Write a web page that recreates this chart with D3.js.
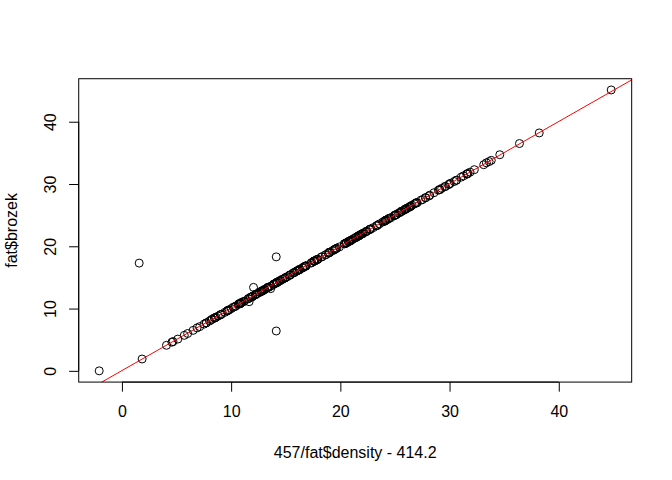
<!DOCTYPE html>
<html>
<head>
<meta charset="utf-8">
<script src="https://cdn.jsdelivr.net/npm/d3@7"></script>
<style>
  html, body { margin: 0; padding: 0; background: #fff; }
  svg { display: block; }
  text { font-family: "Liberation Sans", Arial, Helvetica, sans-serif; }
</style>
</head>
<body>
<svg id="chart" width="672" height="480"></svg>
<script>
// fat$brozek (y values)
const brozek = [
  12.6, 6.9, 24.6, 10.9, 27.8, 20.6, 19.0, 12.8, 5.1, 12.0,
  7.5, 8.5, 20.5, 20.8, 21.7, 20.5, 28.1, 22.4, 16.1, 16.5,
  19.0, 15.3, 15.7, 17.6, 14.2, 4.6, 8.5, 22.4, 4.7, 9.4,
  12.3, 6.5, 13.4, 20.9, 31.1, 38.2, 23.6, 27.5, 33.8, 31.3,
  33.1, 31.7, 30.4, 30.1, 11.9, 5.7, 11.8, 6.4, 13.4, 20.9,
  15.4, 24.2, 13.9, 26.4, 25.8, 22.0, 29.9, 29.1, 26.4, 19.6,
  24.0, 26.8, 25.0, 16.8, 18.3, 16.2, 21.8, 13.9, 21.4, 20.8,
  20.4, 25.3, 17.7, 19.4, 11.6, 18.3, 14.2, 16.8, 23.4, 14.2,
  22.7, 23.9, 21.6, 28.6, 26.4, 27.8, 24.9, 19.0, 18.6, 22.1,
  25.1, 24.5, 21.3, 17.6, 22.0, 17.3, 10.8, 22.7, 15.1, 12.4,
  23.0, 16.9, 17.8, 10.7, 18.3, 25.6, 33.6, 19.3, 20.9, 24.2,
  17.6, 19.5, 21.6, 27.0, 14.9, 16.3, 10.3, 10.7, 17.3, 16.1,
  12.7, 22.8, 23.3, 19.7, 21.0, 26.6, 9.1, 15.4, 10.8, 10.2,
  18.9, 20.4, 10.8, 16.2, 15.8, 24.3, 21.5, 9.6, 26.1, 15.8,
  25.9, 13.2, 11.1, 12.3, 26.0, 14.5, 10.8, 17.6, 7.7, 8.3,
  8.0, 10.8, 13.0, 21.2, 25.4, 27.4, 20.5, 26.3, 12.3, 9.0,
  8.5, 11.9, 10.9, 9.7, 16.6, 20.7, 30.0, 21.7, 8.2, 31.6,
  29.0, 13.4, 9.8, 6.0, 1.9, 11.1, 11.8, 14.9, 16.7, 9.0,
  8.6, 0.0, 11.6, 16.8, 4.1, 17.9, 28.2, 32.3, 12.2, 25.6,
  14.7, 16.3, 25.6, 12.6, 25.0, 13.4, 7.7, 9.7, 26.2, 13.1,
  30.6, 17.9, 20.5, 29.6, 18.7, 31.6, 27.0, 14.2, 10.0, 13.3,
  10.4, 15.0, 30.6, 27.0, 24.1, 45.1, 26.9, 29.6, 19.6, 23.3,
  17.9, 21.9, 8.8, 14.0, 14.1, 14.7, 12.9, 26.0, 31.9, 14.5,
  17.4, 12.8, 12.9, 13.6, 17.6, 19.9, 24.1, 22.3, 34.7, 29.3,
  36.5, 11.2, 22.7, 25.1, 16.0, 7.1, 14.4, 24.4, 11.0, 33.4,
  29.1, 26.0
];

// 457/fat$density - 414.2 (x values)
const siriFromDensity = [
  12.62, 6.88, 24.63, 10.87, 27.82, 20.58, 19.03, 12.77, 5.12, 11.98,
  7.52, 8.47, 20.53, 20.79, 21.68, 20.52, 28.14, 22.37, 16.09, 16.53,
  18.98, 15.32, 15.67, 17.61, 14.23, 4.58, 8.52, 22.41, 4.68, 9.43,
  12.28, 6.52, 13.37, 20.93, 31.06, 38.21, 23.58, 27.53, 33.82, 31.27,
  33.13, 31.68, 30.42, 30.07, 11.93, 5.71, 11.77, 14.13, 13.42, 20.88,
  15.43, 24.17, 13.92, 26.38, 25.83, 21.97, 29.93, 29.08, 26.43, 19.57,
  24.03, 26.78, 24.98, 16.82, 18.27, 16.23, 21.78, 13.88, 21.43, 20.82,
  20.37, 25.32, 17.68, 19.43, 11.58, 14.13, 14.22, 16.77, 23.42, 14.18,
  22.73, 23.88, 21.62, 28.57, 26.43, 27.78, 24.93, 18.97, 18.62, 22.08,
  25.13, 24.47, 21.32, 17.58, 22.03, 1.58, 10.82, 22.68, 15.13, 12.38,
  23.02, 16.88, 17.82, 10.68, 18.32, 25.57, 33.62, 19.28, 20.93, 24.18,
  17.62, 19.48, 21.63, 26.98, 14.92, 16.27, 10.33, 10.68, 17.32, 16.08,
  12.72, 22.78, 23.33, 19.68, 21.03, 26.57, 9.12, 15.38, 10.83, 10.18,
  18.92, 20.38, 10.82, 16.23, 15.77, 24.32, 21.48, 9.63, 26.08, 15.82,
  25.92, 13.62, 11.65, 12.28, 26.03, 14.48, 10.82, 17.57, 7.73, 8.28,
  8.02, 10.78, 13.03, 21.18, 25.43, 27.38, 20.52, 26.32, 12.27, 9.03,
  8.48, 11.92, 10.88, 9.72, 16.58, 20.73, 29.98, 21.72, 8.18, 31.62,
  28.97, 12.05, 9.82, 6.02, 1.85, 11.12, 11.78, 14.93, 16.68, 9.02,
  8.62, -2.08, 11.58, 16.82, 4.08, 17.93, 28.18, 32.27, 12.22, 25.58,
  14.72, 16.28, 25.62, 12.58, 25.03, 13.38, 7.72, 9.68, 26.23, 13.08,
  30.62, 17.88, 20.53, 29.58, 18.72, 31.57, 27.03, 14.18, 10.02, 13.28,
  10.42, 14.98, 30.63, 26.97, 24.12, 44.8, 26.88, 29.62, 19.58, 23.32,
  17.92, 21.88, 8.82, 13.98, 14.12, 14.68, 12.93, 25.97, 31.88, 14.52,
  17.38, 12.82, 12.88, 13.62, 17.58, 19.92, 24.08, 22.32, 34.6, 29.28,
  36.4, 11.22, 22.68, 25.12, 15.98, 7.13, 14.38, 24.42, 10.98, 33.37,
  29.12, 25.97
];

const xTicks = [0, 10, 20, 30, 40];
const yTicks = [0, 10, 20, 30, 40];
const ablineCoef = [0.04, 1.0]; // intercept, slope
const xLabel = "457/fat$density - 414.2";
const yLabel = "fat$brozek";

const W = 672, H = 480;
const lineH = 19.2;
const margin = { top: 4.1 * lineH, right: 2.1 * lineH, bottom: 5.1 * lineH, left: 4.1 * lineH };
const x0 = margin.left, x1 = W - margin.right, y0 = margin.top, y1 = H - margin.bottom;

function rExtent(arr) {
  const [a, b] = d3.extent(arr);
  const pad = 0.04 * (b - a);
  return [a - pad, b + pad];
}

const n = Math.min(brozek.length, siriFromDensity.length);
const data = d3.range(n).map(i => ({ x: siriFromDensity[i], y: brozek[i] }));

const xScale = d3.scaleLinear().domain(rExtent(data.map(d => d.x))).range([x0, x1]);
const yScale = d3.scaleLinear().domain(rExtent(data.map(d => d.y))).range([y1, y0]);

const svg = d3.select("#chart");

svg.append("defs").append("clipPath").attr("id", "plotclip")
  .append("rect").attr("x", x0).attr("y", y0).attr("width", x1 - x0).attr("height", y1 - y0);

// points
svg.append("g")
  .selectAll("circle")
  .data(data)
  .join("circle")
  .attr("cx", d => xScale(d.x))
  .attr("cy", d => yScale(d.y))
  .attr("r", 4)
  .attr("fill", "none")
  .attr("stroke", "#000")
  .attr("stroke-width", 1);

// abline
const xd = xScale.domain();
svg.append("line")
  .attr("clip-path", "url(#plotclip)")
  .attr("x1", xScale(xd[0] - 5)).attr("y1", yScale(ablineCoef[0] + ablineCoef[1] * (xd[0] - 5)))
  .attr("x2", xScale(xd[1] + 5)).attr("y2", yScale(ablineCoef[0] + ablineCoef[1] * (xd[1] + 5)))
  .attr("stroke", "#ff0000")
  .attr("stroke-width", 1);

// box
svg.append("rect")
  .attr("x", x0).attr("y", y0).attr("width", x1 - x0).attr("height", y1 - y0)
  .attr("fill", "none").attr("stroke", "#000").attr("stroke-width", 1);

// bottom axis
const xAxis = d3.axisBottom(xScale).tickValues(xTicks).tickSize(9.6).tickPadding(0).tickFormat(d3.format("d"));
const gx = svg.append("g").attr("transform", `translate(0,${y1})`).call(xAxis);
gx.select(".domain").attr("d", `M${xScale(xTicks[0])},0H${xScale(xTicks[xTicks.length - 1])}`);
gx.selectAll(".tick line").attr("stroke", "#000");
gx.selectAll(".tick text")
  .attr("y", 417.4 - y1).attr("dy", null)
  .attr("font-size", 16).attr("fill", "#000")
  .style("font-family", '"Liberation Sans", Arial, sans-serif');

// left axis
const yAxis = d3.axisLeft(yScale).tickValues(yTicks).tickSize(9.6).tickPadding(0).tickFormat(d3.format("d"));
const gy = svg.append("g").attr("transform", `translate(${x0},0)`).call(yAxis);
gy.select(".domain").attr("d", `M0,${yScale(yTicks[0])}V${yScale(yTicks[yTicks.length - 1])}`);
gy.selectAll(".tick line").attr("stroke", "#000");
gy.selectAll(".tick text")
  .attr("x", null).attr("dy", null)
  .attr("transform", `translate(${56 - x0},0) rotate(-90)`)
  .attr("text-anchor", "middle")
  .attr("font-size", 16).attr("fill", "#000")
  .style("font-family", '"Liberation Sans", Arial, sans-serif');

// axis titles
svg.append("text")
  .attr("x", (x0 + x1) / 2).attr("y", 458.3)
  .attr("text-anchor", "middle").attr("font-size", 16).attr("fill", "#000")
  .text(xLabel);

svg.append("text")
  .attr("transform", `translate(17,${(y0 + y1) / 2}) rotate(-90)`)
  .attr("text-anchor", "middle").attr("font-size", 16).attr("fill", "#000")
  .text(yLabel);
</script>
</body>
</html>
